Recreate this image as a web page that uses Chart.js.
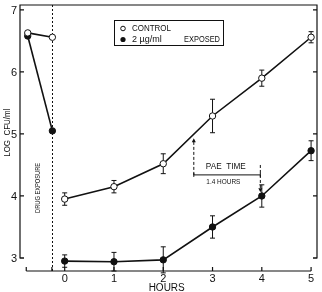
<!DOCTYPE html>
<html>
<head>
<meta charset="utf-8">
<script src="https://cdn.jsdelivr.net/npm/chart.js@4"></script>
<style>
  body { margin: 0; background: #fff; }
  canvas { display: block; }
</style>
</head>
<body>
<canvas id="paeChart" width="322" height="292"></canvas>
<script>
// values (log CFU/ml vs hours)
const hoursPre = [-0.75, -0.25];
const hours = [0, 1, 2, 3, 4, 5];
const controlPre = [6.63, 6.56];
const exposedPre = [6.58, 5.05];
const control = [3.95, 4.15, 4.52, 5.29, 5.90, 6.56];
const controlErr = [0.10, 0.10, 0.16, 0.27, 0.13, 0.09];
const exposed = [2.95, 2.94, 2.97, 3.50, 4.00, 4.73];
const exposedErr = [0.10, 0.15, 0.21, 0.18, 0.18, 0.16];
const yTicks = [3, 4, 5, 6, 7];
const xTicks = [0, 1, 2, 3, 4, 5];
const xAxisStart = -0.78;
const drugExposureAt = -0.26;
const paeStart = 2.62;
const paeEnd = 3.97;
const paeLevel = 4.34;

const INK = '#111';
const FONT = '"Liberation Sans", Arial, sans-serif';

function toXY(xs, ys) {
  return xs.map((v, i) => ({ x: v, y: ys[i] }));
}

function lineSet(data, filled) {
  return {
    data: data,
    borderColor: INK,
    borderWidth: 1.6,
    pointRadius: 3.2,
    pointBorderWidth: 1,
    pointBorderColor: INK,
    pointBackgroundColor: filled ? INK : '#fff',
    tension: 0,
    clip: false
  };
}

const frame = {
  id: 'frame',
  beforeDatasetsDraw(chart) {
    const { ctx, scales: { x, y } } = chart;
    ctx.save();
    ctx.strokeStyle = INK;
    ctx.lineWidth = 1;
    const bars = [[control, controlErr], [exposed, exposedErr]];
    bars.forEach(([vals, errs]) => {
      vals.forEach((v, i) => {
        const px = x.getPixelForValue(hours[i]);
        const top = y.getPixelForValue(v + errs[i]);
        const bot = y.getPixelForValue(v - errs[i]);
        ctx.beginPath();
        ctx.moveTo(px, top); ctx.lineTo(px, bot);
        ctx.moveTo(px - 2.5, top); ctx.lineTo(px + 2.5, top);
        ctx.moveTo(px - 2.5, bot); ctx.lineTo(px + 2.5, bot);
        ctx.stroke();
      });
    });
    // drug exposure dashed line
    const dx = Math.round(x.getPixelForValue(drugExposureAt)) + 0.5;
    ctx.setLineDash([2, 2]);
    ctx.beginPath();
    ctx.moveTo(dx, chart.chartArea.top);
    ctx.lineTo(dx, chart.chartArea.bottom);
    ctx.stroke();
    ctx.restore();
  },
  afterDraw(chart) {
    const { ctx, chartArea: a, scales: { x, y } } = chart;
    ctx.save();
    ctx.strokeStyle = INK;
    ctx.fillStyle = INK;
    ctx.lineWidth = 1.2;

    const y3 = y.getPixelForValue(3);
    // frame: left axis, top, right side
    ctx.beginPath();
    ctx.moveTo(a.left + 4, y3);
    ctx.lineTo(a.left, y3);
    ctx.lineTo(a.left, a.top);
    ctx.lineTo(a.right, a.top);
    ctx.lineTo(a.right, y3);
    ctx.lineTo(a.right - 4, y3);
    ctx.stroke();
    yTicks.forEach(t => {
      const py = y.getPixelForValue(t);
      ctx.beginPath();
      ctx.moveTo(a.left, py); ctx.lineTo(a.left + 4, py);
      ctx.moveTo(a.right, py); ctx.lineTo(a.right - 4, py);
      ctx.stroke();
    });

    // separate hours axis below
    const xb = a.bottom;
    ctx.beginPath();
    ctx.moveTo(x.getPixelForValue(xAxisStart), xb);
    ctx.lineTo(x.getPixelForValue(5), xb);
    ctx.stroke();
    [xAxisStart, drugExposureAt].concat(xTicks).forEach(t => {
      const px = x.getPixelForValue(t);
      ctx.beginPath();
      ctx.moveTo(px, xb); ctx.lineTo(px, xb - 4);
      ctx.stroke();
    });

    // tick labels
    ctx.font = '11px ' + FONT;
    ctx.textAlign = 'right';
    ctx.textBaseline = 'middle';
    yTicks.forEach(t => ctx.fillText(String(t), a.left - 3, y.getPixelForValue(t) + 1));
    ctx.textAlign = 'center';
    ctx.textBaseline = 'top';
    xTicks.forEach(t => ctx.fillText(String(t), x.getPixelForValue(t), xb + 2));

    // axis titles
    ctx.font = '10px ' + FONT;
    ctx.fillText('HOURS', x.getPixelForValue(2.07), xb + 12);
    ctx.save();
    ctx.font = '9px ' + FONT;
    ctx.translate(8, y.getPixelForValue(5.02));
    ctx.rotate(-Math.PI / 2);
    ctx.textBaseline = 'middle';
    ctx.fillText('LOG  CFU/ml', 0, 0, 48);
    ctx.restore();

    ctx.save();
    ctx.font = '7px ' + FONT;
    ctx.translate(x.getPixelForValue(-0.54), y.getPixelForValue(4.13));
    ctx.rotate(-Math.PI / 2);
    ctx.textBaseline = 'middle';
    ctx.fillText('DRUG EXPOSURE', 0, 0, 50);
    ctx.restore();

    // PAE annotation
    const p1 = x.getPixelForValue(paeStart);
    const p2 = x.getPixelForValue(paeEnd);
    const py = y.getPixelForValue(paeLevel);
    const upTop = y.getPixelForValue(4.93);
    const downTop = y.getPixelForValue(4.50);
    const downBot = y.getPixelForValue(4.06);
    ctx.lineWidth = 1;
    ctx.setLineDash([3, 2]);
    ctx.beginPath();
    ctx.moveTo(p1, py); ctx.lineTo(p1, upTop + 3);
    ctx.moveTo(p2, downTop); ctx.lineTo(p2, downBot - 3);
    ctx.stroke();
    ctx.setLineDash([]);
    ctx.beginPath();
    ctx.moveTo(p1, py); ctx.lineTo(p2, py);
    ctx.moveTo(p1, py - 2); ctx.lineTo(p1, py + 2);
    ctx.moveTo(p2, py - 2); ctx.lineTo(p2, py + 2);
    ctx.stroke();
    // arrow heads
    ctx.beginPath();
    ctx.moveTo(p1, upTop); ctx.lineTo(p1 - 2, upTop + 4); ctx.lineTo(p1 + 2, upTop + 4);
    ctx.closePath();
    ctx.moveTo(p2, downBot); ctx.lineTo(p2 - 2, downBot - 4); ctx.lineTo(p2 + 2, downBot - 4);
    ctx.closePath();
    ctx.fill();

    ctx.textAlign = 'center';
    ctx.textBaseline = 'middle';
    ctx.font = '9px ' + FONT;
    ctx.fillText('PAE  TIME', x.getPixelForValue(3.27), y.getPixelForValue(4.47), 40);
    ctx.font = '7px ' + FONT;
    ctx.fillText('1.4 HOURS', x.getPixelForValue(3.22), y.getPixelForValue(4.23), 34);

    // legend box
    ctx.lineWidth = 1;
    ctx.strokeRect(114.5, 20.5, 109, 25);
    ctx.beginPath();
    ctx.arc(123, 28.5, 2.3, 0, Math.PI * 2);
    ctx.stroke();
    ctx.beginPath();
    ctx.arc(123, 39.5, 2.6, 0, Math.PI * 2);
    ctx.fill();
    ctx.font = '9px ' + FONT;
    ctx.textAlign = 'left';
    ctx.fillText('CONTROL', 132, 29, 39);
    ctx.fillText('2 \u00b5g/ml', 132, 40, 35);
    ctx.fillText('EXPOSED', 184, 40, 36);
    ctx.restore();
  }
};

new Chart(document.getElementById('paeChart'), {
  type: 'line',
  data: {
    datasets: [
      lineSet(toXY(hoursPre, controlPre), false),
      lineSet(toXY(hoursPre, exposedPre), true),
      lineSet(toXY(hours, control), false),
      lineSet(toXY(hours, exposed), true)
    ]
  },
  options: {
    responsive: false,
    animation: false,
    layout: { padding: { left: 20, right: 3, top: 5, bottom: 21 } },
    plugins: { legend: { display: false }, tooltip: { enabled: false } },
    scales: {
      x: { type: 'linear', min: -0.907, max: 5.12, display: false },
      y: { type: 'linear', min: 2.79, max: 7.08, display: false }
    }
  },
  plugins: [frame]
});
</script>
</body>
</html>
